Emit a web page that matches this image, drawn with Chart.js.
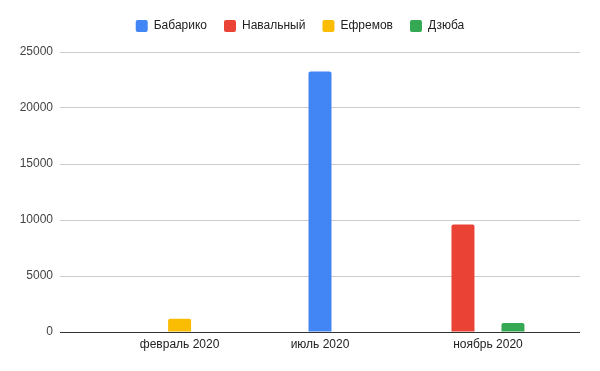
<!DOCTYPE html>
<html>
<head>
<meta charset="utf-8">
<script src="https://cdn.jsdelivr.net/npm/chart.js@4"></script>
<style>
  html, body { margin: 0; padding: 0; background: #fff; }
  #wrap { width: 600px; height: 371px; position: relative; }
</style>
</head>
<body>
<div id="wrap"><canvas id="c"></canvas></div>
<script>
// ---- data ----
const categories = ['февраль 2020', 'июль 2020', 'ноябрь 2020'];
// positions of the categories along the (uneven) horizontal axis, in axis units 0..100
const categoryPositions = [23, 50, 82.3];
const seriesNames = ['Бабарико', 'Навальный', 'Ефремов', 'Дзюба'];
const babariko  = [null, 23250, null];
const navalny   = [null, null, 9600];
const efremov   = [1180, null, null];
const dzyuba    = [null, null, 800];
const yTicks = [0, 5000, 10000, 15000, 20000, 25000];

const seriesValues = [babariko, navalny, efremov, dzyuba];
const colors = ['#4285F4', '#EA4335', '#FBBC04', '#34A853'];

const datasets = seriesNames.map((name, s) => ({
  label: name,
  data: categoryPositions.map((x, i) => ({ x: x, y: seriesValues[s][i] })),
  backgroundColor: colors[s],
  borderColor: colors[s],
  borderWidth: 0,
  borderRadius: 2,
  categoryPercentage: 0.712,
  barPercentage: 0.46,
  maxBarThickness: 23,
  skipNull: true
}));

const legendSpacing = {
  id: 'legendSpacing',
  beforeInit(chart) {
    const origFit = chart.legend.fit;
    chart.legend.fit = function () {
      origFit.call(this);
      this.height += 10;
    };
  }
};

Chart.defaults.font.family = 'Arial, "Liberation Sans", sans-serif';
Chart.defaults.font.size = 12;
Chart.defaults.color = '#222';

new Chart(document.getElementById('c'), {
  type: 'bar',
  data: { datasets },
  plugins: [legendSpacing],
  options: {
    responsive: true,
    maintainAspectRatio: false,
    animation: false,
    layout: { padding: { top: 3, left: 20, right: 20, bottom: 0 } },
    plugins: {
      legend: {
        position: 'top',
        labels: {
          boxWidth: 12,
          boxHeight: 12,
          useBorderRadius: true,
          borderRadius: 2,
          padding: 17,
          color: '#222',
          font: { size: 12 }
        }
      },
      tooltip: { enabled: false }
    },
    scales: {
      x: {
        type: 'linear',
        offset: false,
        min: 0,
        max: 100,
        grid: { display: false, drawTicks: false, offset: false },
        border: { display: false },
        afterBuildTicks(scale) {
          scale.ticks = categoryPositions.map(v => ({ value: v }));
        },
        afterFit(scale) { scale.height = 39; },
        ticks: {
          autoSkip: false,
          maxRotation: 0,
          padding: 5,
          color: '#222',
          callback: (v) => {
            const i = categoryPositions.indexOf(v);
            return i >= 0 ? categories[i] : '';
          }
        }
      },
      y: {
        min: 0,
        max: 25000,
        afterBuildTicks(scale) {
          scale.ticks = yTicks.map(v => ({ value: v }));
        },
        afterFit(scale) { scale.width = 40; },
        grid: {
          drawTicks: false,
          color: (ctx) => (ctx.tick && ctx.tick.value === 0) ? '#333333' : '#cccccc'
        },
        border: { display: false },
        ticks: {
          padding: 7,
          color: '#444',
          callback: (v) => String(v)
        }
      }
    }
  }
});
</script>
</body>
</html>
